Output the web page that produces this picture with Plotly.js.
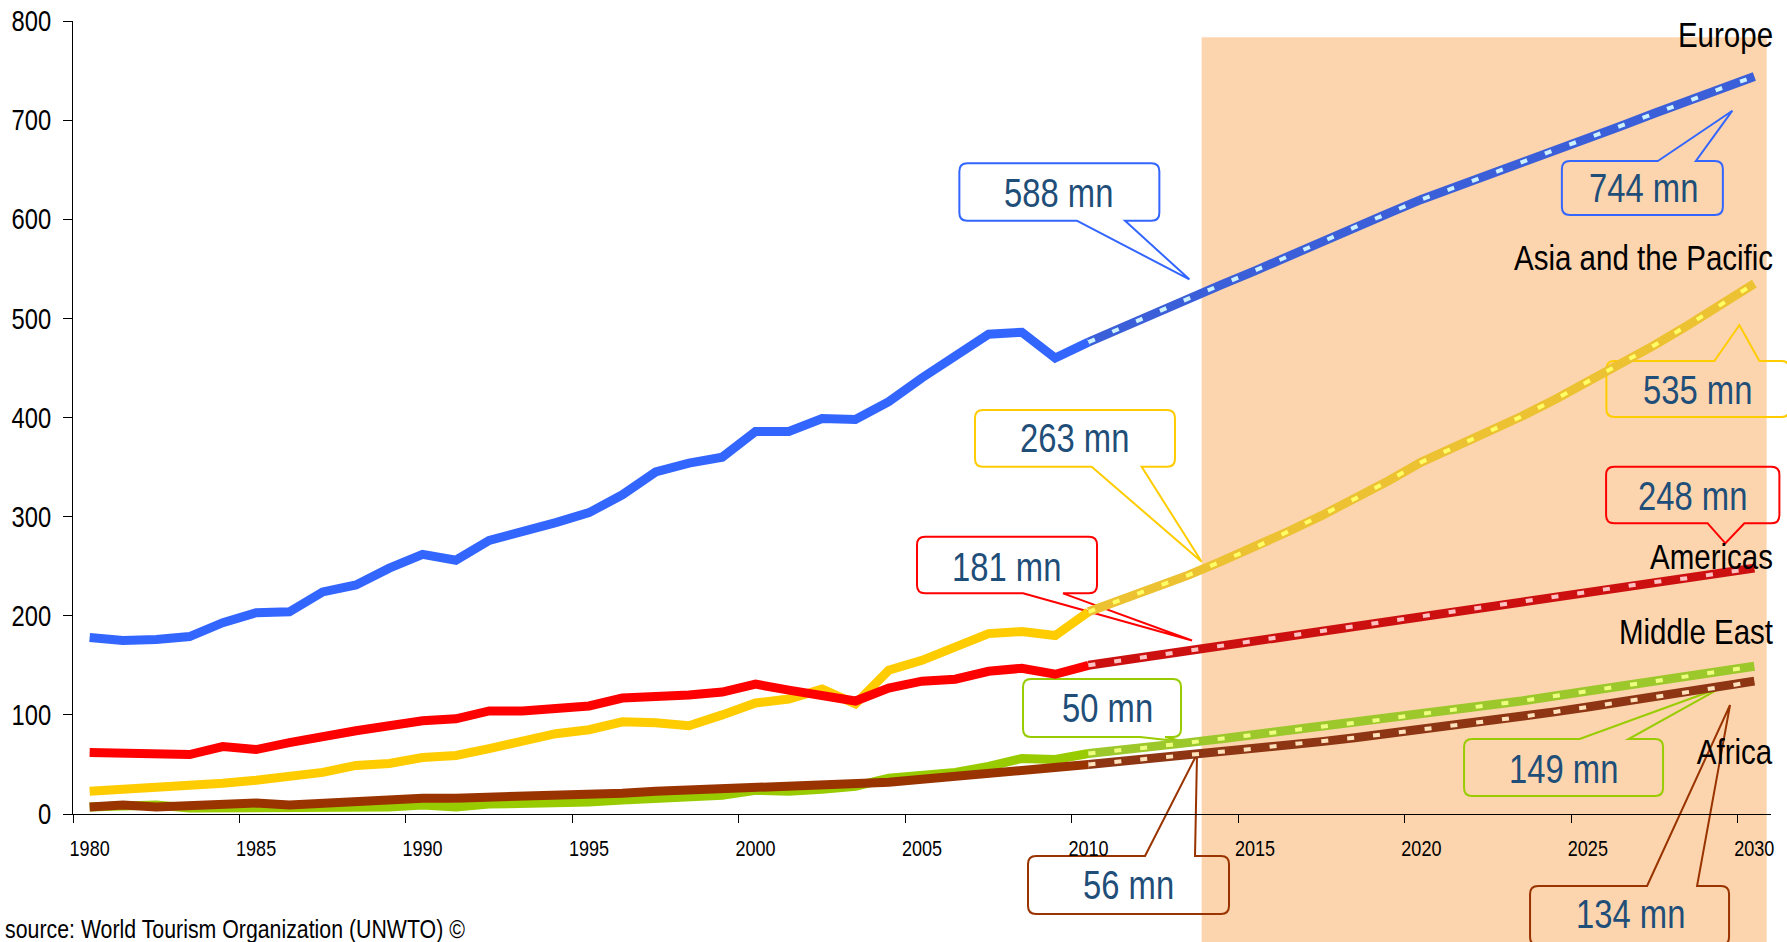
<!DOCTYPE html>
<html><head><meta charset="utf-8">
<script src="https://cdn.plot.ly/plotly-3.0.1.min.js"></script>
<style>html,body{margin:0;padding:0;background:#fff;}#chart{width:1787px;height:942px;}</style>
</head><body><div id="chart"></div>
<script>
// ---------- data ----------
const histYears = [1980,1981,1982,1983,1984,1985,1986,1987,1988,1989,1990,1991,1992,1993,1994,1995,1996,1997,1998,1999,2000,2001,2002,2003,2004,2005,2006,2007,2008,2009,2010];
const forecastYears = [2010,2011,2012,2013,2014,2015,2016,2017,2018,2019,2020,2021,2022,2023,2024,2025,2026,2027,2028,2029,2030];

const europeHist   = [178,175,176,179,193,203,204,224,231,248,262,256,276,284,294,304,322,345,354,360,386,386,399,398,416,440,461,484,486,460,476];
const asiaHist     = [23,25,27,27,31,34,37,42,49,51,57,59,66,73,81,85,93,92,89,100,112,116,126,111,145,155,168,182,184,180,204];
const americasHist = [62,62,60,60,68,65,72,79,84,89,94,96,104,104,106,109,117,118,120,123,131,125,120,114,127,134,136,144,147,141,150];
const middleEastHist = [7,8,9,6,6,7,5,5,6,7,9,7,10,10,10,12,14,15,16,19,24,23,25,28,36,38,42,48,56,55,61];
const africaHist   = [7,9,7,9,9,11,9,11,12,14,16,16,17,17,17,19,21,23,24,25,26,27,28,29,32,35,38,42,44,46,50];

const europeFc   = [476,491,505,520,534,548,563,577,592,606,620,632,645,657,670,682,694,707,719,732,744];
const asiaFc     = [204,216,228,241,255,269,285,301,318,336,355,370,385,401,418,436,454,473,493,514,535];
const americasFc = [150,155,160,165,170,175,180,185,190,194,199,204,209,214,219,224,229,234,238,243,248];
const middleEastFc = [61,64,68,72,76,80,84,88,92,96,101,105,110,114,119,124,129,134,139,144,149];
const africaFc   = [50,53,56,59,63,66,70,73,77,81,85,89,94,98,103,108,113,118,123,128,134];

const tickYears  = [1980,1985,1990,1995,2000,2005,2010,2015,2020,2025,2030];
const tickLabels = ['1980','1985','1990','1995','2000','2005','2010','2015','2020','2025','2030'];
const tickBounds = [1979.5,1984.5,1989.5,1994.5,1999.5,2004.5,2009.5,2014.5,2019.5,2024.5,2029.5];
const yTicks = [0,100,200,300,400,500,600,700,800];

const regionNames = ['Europe','Asia and the Pacific','Americas','Middle East','Africa'];
const shadeStart = 2013.4, shadeEnd = 2030.37, shadeTop = 783.6;

// callouts: tip in data units; box / wedge base / text offsets in pixels from the tip (screen, y down)
const callouts = [
  {text:'588 mn', color:'#3366ff', tip:[2013.03,539.4], box:{l:-230,r:-30,t:-116,b:-58.6}, side:'bottom', base:[-112.6,-64.3], txt:[-131.3,-86.3]},
  {text:'744 mn', color:'#3366ff', tip:[2029.34,709.5], box:{l:-170.5,r:-9.5,t:50.3,b:104.3}, side:'top', base:[-74.5,-36.5], txt:[-88.9,77.3]},
  {text:'263 mn', color:'#ffcc00', tip:[2013.4,254.5], box:{l:-226.7,r:-26.7,t:-151.7,b:-95}, side:'bottom', base:[-110,-60], txt:[-126.7,-123.7]},
  {text:'535 mn', color:'#ffcc00', tip:[2029.55,493.3], box:{l:-133,r:50,t:36,b:92}, side:'top', base:[-25,20], txt:[-42,65]},
  {text:'181 mn', color:'#ff0000', tip:[2013.11,175.0], box:{l:-275,r:-95,t:-103.8,b:-47.2}, side:'bottom', base:[-169,-129], txt:[-185.3,-73.8]},
  {text:'248 mn', color:'#ff0000', tip:[2029.13,273.1], box:{l:-119.3,r:54,t:-76.6,b:-20}, side:'bottom', base:[-17.7,19], txt:[-33,-47.6]},
  {text:'50 mn', color:'#99cc00', tip:[2012.9,72.6], box:{l:-162,r:-4,t:-63,b:-5}, side:'bottom', base:[-45,-20], txt:[-78,-34]},
  {text:'149 mn', color:'#99cc00', tip:[2029.0,127.6], box:{l:-257,r:-58,t:51.5,b:108.5}, side:'top', base:[-141.5,-92.5], txt:[-158,81.5]},
  {text:'56 mn', color:'#993300', tip:[2013.26,60.5], box:{l:-169,r:32,t:102,b:160}, side:'top', base:[-52,-2], txt:[-69,131]},
  {text:'134 mn', color:'#993300', tip:[2029.27,110.0], box:{l:-200,r:-1,t:181,b:240}, side:'top', base:[-83,-33], txt:[-100,209]}
];

// ---------- layout helpers ----------
const W = 1787, H = 942, M = {l:73, r:16, t:21, b:128};
const X0 = 1979.5, X1 = 2030.5, Y0 = 0, Y1 = 800;
const PW = W - M.l - M.r, PH = H - M.t - M.b;
const px = yr => (yr - X0) / (X1 - X0);
const py = v => (v - Y0) / (Y1 - Y0);
const pyPix = Y => (H - M.b - Y) / PH;   // page pixel y -> paper
const FONT = 'Liberation Sans, Arial, sans-serif';
const NARROW = 0.82;   // horizontal condensing of all text (Arial -> Arial Narrow look)

function calloutPath(c) {
  const R = 8, {l, r, t, b} = c.box;
  const P = (x, y) => x.toFixed(1) + ',' + (-y).toFixed(1);
  if (c.side === 'bottom') {
    return `M${P(c.base[0],b)} L${P(0,0)} L${P(c.base[1],b)} L${P(r-R,b)} Q${P(r,b)} ${P(r,b-R)} L${P(r,t+R)} Q${P(r,t)} ${P(r-R,t)} L${P(l+R,t)} Q${P(l,t)} ${P(l,t+R)} L${P(l,b-R)} Q${P(l,b)} ${P(l+R,b)} Z`;
  }
  return `M${P(c.base[0],t)} L${P(0,0)} L${P(c.base[1],t)} L${P(r-R,t)} Q${P(r,t)} ${P(r,t+R)} L${P(r,b-R)} Q${P(r,b)} ${P(r-R,b)} L${P(l+R,b)} Q${P(l,b)} ${P(l,b-R)} L${P(l,t+R)} Q${P(l,t)} ${P(l+R,t)} Z`;
}

// ---------- traces ----------
function hist(y, color) {
  return {x: histYears, y: y, mode: 'lines', line: {color: color, width: 9}, hoverinfo: 'skip', showlegend: false};
}
function fc(y, dark, light) {
  return [
    {x: forecastYears, y: y, mode: 'lines', line: {color: dark, width: 9}, hoverinfo: 'skip', showlegend: false},
    {x: forecastYears, y: y, mode: 'lines', line: {color: light, width: 4, dash: '7px,19px'}, hoverinfo: 'skip', showlegend: false}
  ];
}
const traces = [
  hist(middleEastHist, '#99cc00'), ...fc(middleEastFc, '#9cc82c', '#eeff80'),
  hist(africaHist, '#993300'), ...fc(africaFc, '#8e3614', '#ffe2bc'),
  hist(asiaHist, '#ffcc00'), ...fc(asiaFc, '#ecc232', '#ffff66'),
  hist(americasHist, '#ff0000'), ...fc(americasFc, '#cc1010', '#ffc2c2'),
  hist(europeHist, '#3366ff'), ...fc(europeFc, '#3b5fd8', '#ccf2ff')
];

// ---------- shapes & annotations ----------
const shapes = [{
  type: 'rect', xref: 'x', yref: 'paper', x0: shadeStart, x1: shadeEnd, y0: -0.2, y1: py(shadeTop),
  fillcolor: '#fcd5ae', line: {width: 0}, layer: 'below'
}];
const annotations = [], annAlign = [];
callouts.forEach(c => {
  shapes.push({
    type: 'path', xref: 'paper', yref: 'paper', xsizemode: 'pixel', ysizemode: 'pixel',
    xanchor: px(c.tip[0]), yanchor: py(c.tip[1]), path: calloutPath(c),
    line: {color: c.color, width: 2}, fillcolor: 'rgba(0,0,0,0)', layer: 'below'
  });
  annotations.push({
    xref: 'paper', yref: 'paper', x: px(c.tip[0]), y: py(c.tip[1]), xshift: c.txt[0], yshift: -c.txt[1],
    text: c.text, showarrow: false, xanchor: 'center', yanchor: 'middle',
    font: {family: FONT, size: 40, color: '#1f4e79'}
  });
  annAlign.push('center');
});
const labelY = [34, 257.5, 556.5, 631.5, 751.5];
regionNames.forEach((n, i) => {
  annotations.push({
    xref: 'paper', yref: 'paper', x: 1, xshift: 4, y: pyPix(labelY[i]), text: n, showarrow: false,
    xanchor: 'right', yanchor: 'middle', font: {family: FONT, size: 36, color: '#000'}
  });
  annAlign.push('right');
});
annotations.push({
  xref: 'paper', yref: 'paper', x: -M.l / PW, xshift: 3, y: pyPix(929), text: 'source: World Tourism Organization (UNWTO) ©',
  showarrow: false, xanchor: 'left', yanchor: 'middle', font: {family: FONT, size: 26, color: '#000'}
});
annAlign.push('left');

const layout = {
  width: W, height: H, margin: M, paper_bgcolor: '#fff', plot_bgcolor: '#fff',
  font: {family: FONT, color: '#000'}, showlegend: false,
  xaxis: {range: [X0, X1], tickmode: 'array', tickvals: tickYears, ticktext: tickLabels, ticks: '',
    showline: true, linecolor: '#000', linewidth: 1, showgrid: false, zeroline: false,
    tickfont: {family: FONT, size: 22, color: '#000'}, ticklabelstandoff: 15, fixedrange: true},
  xaxis2: {range: [X0, X1], overlaying: 'x', anchor: 'y', side: 'bottom', tickmode: 'array', tickvals: tickBounds,
    ticks: 'outside', ticklen: 8, tickcolor: '#000', tickwidth: 1, showticklabels: false, showline: false,
    showgrid: false, zeroline: false, fixedrange: true},
  yaxis: {range: [Y0, Y1], tickmode: 'array', tickvals: yTicks, ticks: 'outside', ticklen: 9, tickcolor: '#000',
    showline: true, linecolor: '#000', linewidth: 1, showgrid: false, zeroline: false,
    tickfont: {family: FONT, size: 29, color: '#000'}, ticklabelstandoff: 6, fixedrange: true},
  shapes: shapes, annotations: annotations
};
// invisible trace so that the tick-mark axis (xaxis2) is drawn
traces.push({x: [X0], y: [0], xaxis: 'x2', mode: 'markers', marker: {opacity: 0}, hoverinfo: 'skip', showlegend: false});

function condense(t, mode) {
  if (!t) return;
  const bb = t.getBBox();
  const p = mode === 'right' ? bb.x + bb.width : mode === 'left' ? bb.x : bb.x + bb.width / 2;
  const tr = t.getAttribute('transform') || '';
  t.setAttribute('transform', tr + ` translate(${p},0) scale(${NARROW},1) translate(${-p},0)`);
}

Plotly.newPlot('chart', traces, layout, {staticPlot: true, displayModeBar: false}).then(gd => {
  gd.querySelectorAll('.xtick text').forEach(t => condense(t, 'center'));
  gd.querySelectorAll('.ytick text').forEach(t => condense(t, 'right'));
  gd.querySelectorAll('g.annotation').forEach(g => {
    const i = +g.getAttribute('data-index');
    condense(g.querySelector('text'), annAlign[i]);
  });
});
</script></body></html>
